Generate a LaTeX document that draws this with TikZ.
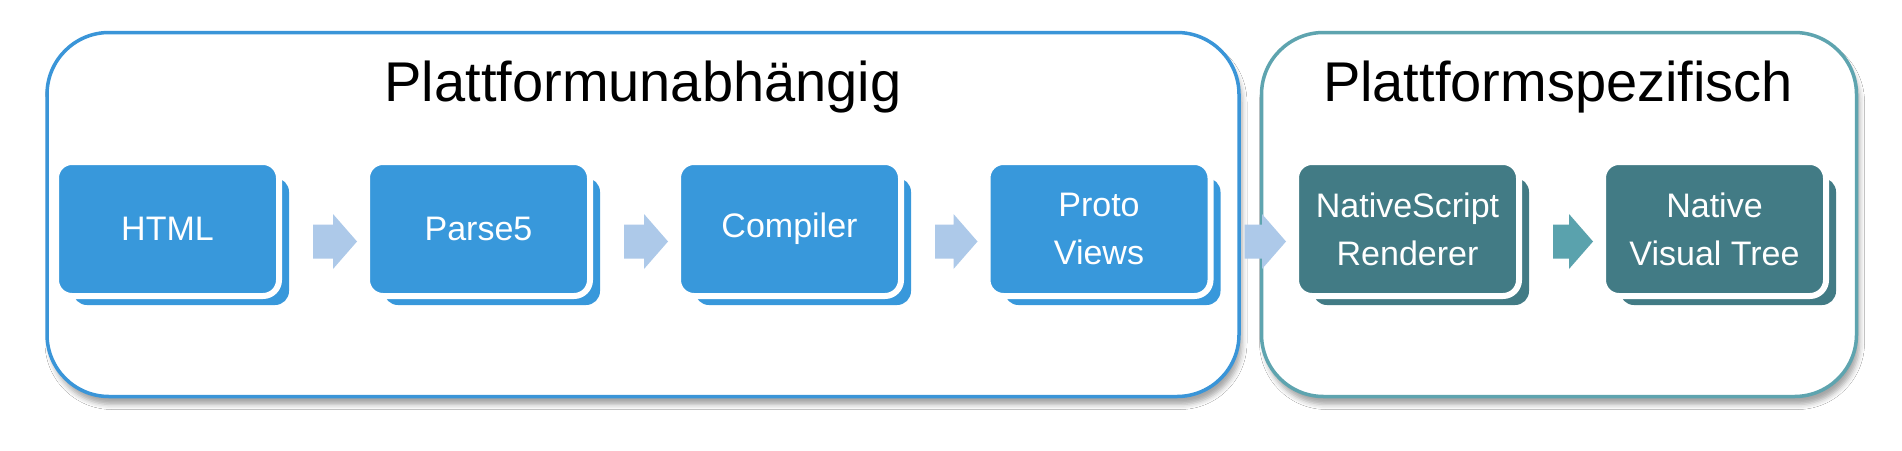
\documentclass[tikz,border=0pt]{standalone}
\usepackage{fontspec}
\setmainfont{Liberation Sans}
\usetikzlibrary{calc,shadows.blur}
\definecolor{boxblue}{HTML}{3898DB}
\definecolor{boxteal}{HTML}{427B85}
\definecolor{arrowlight}{HTML}{ADC9E9}
\definecolor{arrowteal}{HTML}{5AA2AD}
\definecolor{leftborder}{HTML}{3A95D8}
\definecolor{rightborder}{HTML}{5EA4AF}
\tikzset{
  groupbox/.style={rectangle, rounded corners=62pt, line width=3.5pt, fill=white, inner sep=0pt,
    blur shadow={shadow xshift=3pt, shadow yshift=-8pt, shadow blur radius=5pt, shadow opacity=35}},
  titletext/.style={font=\fontsize{56}{62}\selectfont, text=black, inner sep=0pt},
  backbox/.style={rectangle, rounded corners=14pt, minimum width=216pt, minimum height=127pt, inner sep=0pt},
  frontbox/.style={rectangle, rounded corners=16pt, draw=white, line width=6pt, minimum width=223pt,
    minimum height=134pt, inner sep=0pt, text=white, align=center, font=\fontsize{34}{48}\selectfont},
}
\newcommand\stagebox[4]{%
  \node[backbox, fill=#4] (#1b) at (#2+13.5,241.5) {};
  \node[frontbox, fill=#4] (#1) at (#2,229) {#3};}
\newcommand\flowarrow[3]{%
  \fill[#3] ($(#1.east)+(24,17)$) -- ($(#2.west |- #1.east)+(-31,17)$)
    -- ($(#2.west |- #1.east)+(-31,27.5)$) -- ($(#2.west |- #1.east)+(-7,0)$)
    -- ($(#2.west |- #1.east)+(-31,-27.5)$) -- ($(#2.west |- #1.east)+(-31,-17)$)
    -- ($(#1.east)+(24,-17)$) -- cycle;}
\begin{document}
\begin{tikzpicture}[x=1pt,y=-1pt]
\useasboundingbox (0,0) rectangle (1902,450);
\fill[white] (0,0) rectangle (1902,450);
\node[groupbox, draw=leftborder, minimum width=1192pt, minimum height=364pt] (gleft) at (643,214.5) {};
\node[groupbox, draw=rightborder, minimum width=595pt, minimum height=364pt] (gright) at (1559,214.5) {};
\node[titletext, anchor=base] (tleft) at (643,101) {Plattformunabhängig};
\node[titletext, anchor=base] (tright) at (1558,101) {Plattformspezifisch};
\stagebox{html}{167.5}{HTML}{boxblue}
\stagebox{parse}{478.5}{Parse5}{boxblue}
\stagebox{comp}{789.5}{Compiler}{boxblue}
\stagebox{proto}{1099}{Proto\\Views}{boxblue}
\stagebox{nsr}{1407.5}{NativeScript\\Renderer}{boxteal}
\stagebox{nvt}{1714.5}{Native\\Visual Tree}{boxteal}
\flowarrow{htmlb}{parse}{arrowlight}
\flowarrow{parseb}{comp}{arrowlight}
\flowarrow{compb}{proto}{arrowlight}
\flowarrow{protob}{nsr}{arrowlight}
\flowarrow{nsrb}{nvt}{arrowteal}
\end{tikzpicture}
\end{document}
